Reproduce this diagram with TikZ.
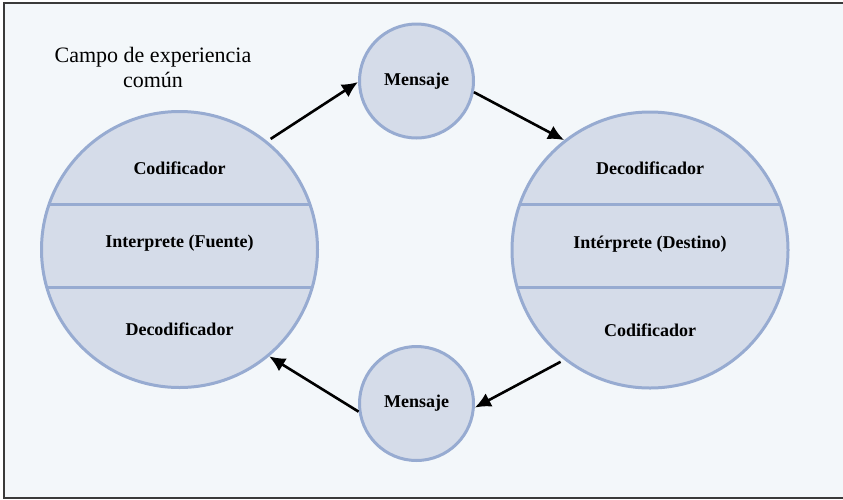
\documentclass[tikz,border=0pt]{standalone}
\usepackage{fontspec}
\setmainfont{Liberation Serif}
\usetikzlibrary{arrows.meta}
\definecolor{fondo}{HTML}{F3F7FA}
\definecolor{relleno}{HTML}{D5DCE9}
\definecolor{borde}{HTML}{97ABD1}
\definecolor{marco}{HTML}{3A3A3A}
\begin{document}
\begin{tikzpicture}
	[x=1pt,y=-1pt,
	every circle node/.style={draw=borde,fill=relleno,line width=3pt,inner sep=0pt},
	grande/.style={minimum size=276pt},
	chico/.style={minimum size=114pt,font=\fontsize{18}{20}\selectfont\bfseries},
	etiqueta/.style={font=\fontsize{18}{20}\selectfont\bfseries},
	division/.style={draw=borde,line width=3pt},
	flecha/.style={draw,line width=2.6pt,-{Latex[length=16pt,width=15pt]}}]
	\useasboundingbox (0,0) rectangle (843,499);
	\draw[marco,fill=fondo,line width=2pt] (4,3) rectangle (850,498);
	\node[align=center,font=\fontsize{22}{25}\selectfont] (T) at (153,67.5) {Campo de experiencia\\común};
	\node[circle,grande,path picture={
		\draw[division] ([yshift=45.5pt]path picture bounding box.west) -- ([yshift=45.5pt]path picture bounding box.east);
		\draw[division] ([yshift=-37.5pt]path picture bounding box.west) -- ([yshift=-37.5pt]path picture bounding box.east);}]
		(F) at (179.5,249.5) {};
	\node[circle,grande,path picture={
		\draw[division] ([yshift=46pt]path picture bounding box.west) -- ([yshift=46pt]path picture bounding box.east);
		\draw[division] ([yshift=-37pt]path picture bounding box.west) -- ([yshift=-37pt]path picture bounding box.east);}]
		(D) at (650,250) {};
	\node[circle,chico] (M) at (416.5,81) {Mensaje};
	\node[circle,chico] (N) at (416.5,403.5) {Mensaje};
	\node[etiqueta] (F1) at (179.5,168) {Codificador};
	\node[etiqueta] (F2) at (179.5,243.5) {Interprete (Fuente)};
	\node[etiqueta] (F3) at (179.5,329.5) {Decodificador};
	\node[etiqueta] (D1) at (650,168) {Decodificador};
	\node[etiqueta] (D2) at (650,244) {Intérprete (Destino)};
	\node[etiqueta] (D3) at (650,330) {Codificador};
	\path
	(F.51) edge[flecha,shorten <=4pt] (M.181)
	(M.349) edge[flecha] (D.128)
	(D.232) edge[flecha,shorten <=4pt] (N.356)
	(N.188) edge[flecha] (F.310);
\end{tikzpicture}
\end{document}
